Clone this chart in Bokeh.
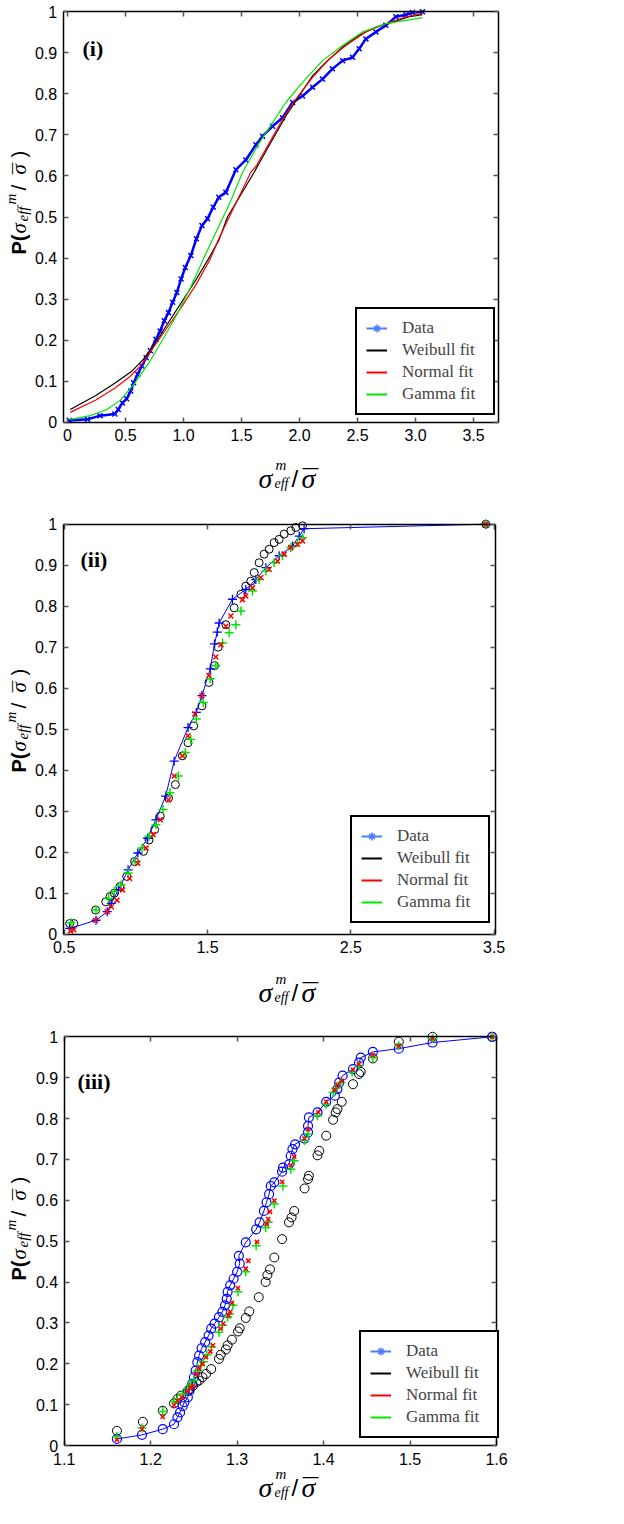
import math
from bokeh.plotting import figure
from bokeh.models import Range1d, FixedTicker, LinearAxis, Label, Legend, LegendItem
from bokeh.layouts import column
from bokeh.embed import file_html
from bokeh.resources import INLINE

# ---------------- values ----------------
y_ticks = [0, 0.1, 0.2, 0.3, 0.4, 0.5, 0.6, 0.7, 0.8, 0.9, 1]
y_tick_labels = ["0", "0.1", "0.2", "0.3", "0.4", "0.5", "0.6", "0.7", "0.8", "0.9", "1"]
legend_labels = ["Data", "Weibull fit", "Normal fit", "Gamma fit"]
panel_tags = ["(i)", "(ii)", "(iii)"]

# Panel (i)
p1_x_ticks = [0, 0.5, 1.0, 1.5, 2.0, 2.5, 3.0, 3.5]
p1_x_tick_labels = ["0", "0.5", "1.0", "1.5", "2.0", "2.5", "3.0", "3.5"]
p1_data_x = [0.015, 0.172, 0.280, 0.408, 0.437, 0.473, 0.509, 0.545, 0.569, 0.605, 0.641, 0.678,
             0.714, 0.762, 0.798, 0.834, 0.870, 0.906, 0.942, 0.979, 1.015, 1.063, 1.111, 1.159,
             1.207, 1.256, 1.304, 1.365, 1.451, 1.537, 1.624, 1.681, 1.767, 1.853, 1.940, 2.026,
             2.112, 2.198, 2.284, 2.371, 2.457, 2.514, 2.572, 2.658, 2.744, 2.830, 2.917, 2.974, 3.060]
p1_data_y = [0.004, 0.007, 0.016, 0.020, 0.031, 0.047, 0.057, 0.076, 0.096, 0.117, 0.137, 0.157,
             0.174, 0.202, 0.222, 0.247, 0.267, 0.292, 0.316, 0.349, 0.377, 0.406, 0.447, 0.479,
             0.496, 0.524, 0.548, 0.560, 0.615, 0.639, 0.676, 0.697, 0.721, 0.742, 0.779, 0.795,
             0.816, 0.836, 0.861, 0.881, 0.889, 0.910, 0.934, 0.951, 0.967, 0.988, 0.993, 0.998, 1.000]
p1_weib_x = [0.023, 0.244, 0.413, 0.557, 0.653, 0.750, 0.870, 0.991, 1.111, 1.231, 1.304, 1.379,
             1.609, 1.652, 1.767, 1.882, 1.997, 2.112, 2.227, 2.371, 2.514, 2.658, 2.802, 2.945, 3.060]
p1_weib_y = [0.031, 0.065, 0.096, 0.125, 0.153, 0.190, 0.243, 0.296, 0.349, 0.406, 0.443, 0.500,
             0.609, 0.631, 0.689, 0.746, 0.795, 0.844, 0.877, 0.914, 0.943, 0.963, 0.975, 0.988, 0.993]
p1_norm_x = [0.023, 0.244, 0.413, 0.533, 0.629, 0.750, 0.870, 0.991, 1.111, 1.231, 1.304, 1.394,
             1.580, 1.624, 1.739, 1.853, 1.968, 2.112, 2.256, 2.399, 2.572, 2.744, 2.917, 3.060]
p1_norm_y = [0.024, 0.054, 0.084, 0.110, 0.137, 0.186, 0.235, 0.284, 0.337, 0.398, 0.447, 0.500,
             0.609, 0.623, 0.680, 0.738, 0.787, 0.840, 0.885, 0.918, 0.951, 0.971, 0.988, 0.996]
p1_gamm_x = [0.023, 0.196, 0.340, 0.461, 0.581, 0.702, 0.822, 0.942, 1.063, 1.183, 1.300, 1.400,
             1.509, 1.537, 1.652, 1.767, 1.882, 2.026, 2.198, 2.371, 2.543, 2.744, 2.917, 3.060]
p1_gamm_y = [0.007, 0.016, 0.031, 0.055, 0.096, 0.145, 0.202, 0.262, 0.330, 0.405, 0.475, 0.535,
             0.609, 0.623, 0.680, 0.730, 0.779, 0.828, 0.881, 0.918, 0.951, 0.971, 0.979, 0.986]

# Panel (ii)
p2_x_ticks = [0.5, 1.5, 2.5, 3.5]
p2_x_tick_labels = ["0.5", "1.5", "2.5", "3.5"]
p2_data_x = [0.538, 0.722, 0.800, 0.829, 0.878, 0.946, 1.014, 1.082, 1.140, 1.208, 1.267, 1.364,
             1.422, 1.461, 1.519, 1.549, 1.568, 1.581, 1.674, 1.767, 1.837, 1.907, 2.000, 2.093,
             2.140, 2.174, 3.442]
p2_data_y = [0.014, 0.034, 0.055, 0.075, 0.108, 0.157, 0.198, 0.234, 0.279, 0.337, 0.422, 0.504,
             0.541, 0.582, 0.647, 0.708, 0.737, 0.759, 0.817, 0.841, 0.865, 0.894, 0.923, 0.947,
             0.971, 0.989, 1.000]
p2_weib_x = [0.538, 0.567, 0.719, 0.790, 0.820, 0.849, 0.888, 0.936, 0.991, 1.053, 1.092, 1.131,
             1.170, 1.228, 1.276, 1.325, 1.364, 1.403, 1.461, 1.510, 1.549, 1.574, 1.628, 1.686,
             1.733, 1.767, 1.802, 1.826, 1.860, 1.895, 1.930, 1.965, 2.000, 2.035, 2.081, 2.116,
             2.163, 3.442]
p2_weib_y = [0.026, 0.026, 0.059, 0.079, 0.092, 0.100, 0.116, 0.141, 0.177, 0.202, 0.230, 0.255,
             0.288, 0.332, 0.365, 0.435, 0.467, 0.508, 0.557, 0.614, 0.655, 0.700, 0.755, 0.796,
             0.829, 0.849, 0.861, 0.882, 0.906, 0.927, 0.939, 0.955, 0.963, 0.976, 0.984, 0.992,
             0.996, 1.000]
p2_norm_x = [0.544, 0.567, 0.719, 0.800, 0.829, 0.868, 0.907, 0.956, 1.014, 1.072, 1.121, 1.170,
             1.228, 1.267, 1.325, 1.364, 1.412, 1.461, 1.510, 1.558, 1.593, 1.628, 1.663, 1.744,
             1.767, 1.814, 1.872, 1.930, 1.988, 2.035, 2.081, 2.128, 2.163, 3.442]
p2_norm_y = [0.008, 0.011, 0.034, 0.055, 0.067, 0.083, 0.108, 0.136, 0.173, 0.210, 0.243, 0.279,
             0.328, 0.386, 0.435, 0.484, 0.537, 0.582, 0.631, 0.676, 0.706, 0.751, 0.776, 0.816,
             0.825, 0.845, 0.870, 0.890, 0.910, 0.927, 0.943, 0.951, 0.959, 1.000]
p2_gamm_x = [0.547, 0.722, 0.810, 0.849, 0.897, 0.946, 0.995, 1.043, 1.092, 1.140, 1.189, 1.238,
             1.296, 1.345, 1.383, 1.422, 1.471, 1.519, 1.558, 1.605, 1.651, 1.698, 1.733, 1.814,
             1.860, 1.907, 1.965, 2.023, 2.081, 2.128, 2.163, 3.442]
p2_gamm_y = [0.028, 0.059, 0.087, 0.104, 0.120, 0.149, 0.177, 0.210, 0.239, 0.267, 0.304, 0.345,
             0.386, 0.443, 0.475, 0.525, 0.565, 0.623, 0.655, 0.710, 0.735, 0.755, 0.788, 0.837,
             0.865, 0.886, 0.906, 0.923, 0.943, 0.955, 0.967, 1.000]

# Panel (iii)
p3_x_ticks = [1.1, 1.2, 1.3, 1.4, 1.5, 1.6]
p3_x_tick_labels = ["1.1", "1.2", "1.3", "1.4", "1.5", "1.6"]
p3_data_x = [1.161, 1.190, 1.214, 1.227, 1.231, 1.234, 1.237, 1.239, 1.243, 1.245, 1.248, 1.250,
             1.252, 1.254, 1.256, 1.259, 1.263, 1.267, 1.270, 1.274, 1.279, 1.283, 1.286, 1.288,
             1.289, 1.292, 1.296, 1.300, 1.303, 1.302, 1.310, 1.322, 1.326, 1.331, 1.334, 1.337,
             1.339, 1.343, 1.352, 1.353, 1.360, 1.362, 1.364, 1.367, 1.378, 1.382, 1.382, 1.383,
             1.393, 1.403, 1.413, 1.416, 1.418, 1.422, 1.434, 1.441, 1.443, 1.457, 1.487, 1.526, 1.595]
p3_data_y = [0.016, 0.026, 0.040, 0.052, 0.069, 0.081, 0.096, 0.106, 0.118, 0.134, 0.151, 0.167,
             0.183, 0.204, 0.220, 0.238, 0.253, 0.269, 0.286, 0.298, 0.314, 0.327, 0.343, 0.359,
             0.376, 0.392, 0.408, 0.425, 0.445, 0.464, 0.497, 0.529, 0.546, 0.574, 0.595, 0.615,
             0.635, 0.644, 0.670, 0.680, 0.688, 0.709, 0.725, 0.737, 0.751, 0.766, 0.782, 0.803,
             0.815, 0.841, 0.856, 0.872, 0.888, 0.905, 0.921, 0.937, 0.949, 0.963, 0.971, 0.986, 1.000]
p3_weib_x = [1.161, 1.191, 1.214, 1.227, 1.231, 1.235, 1.243, 1.245, 1.249, 1.253, 1.256, 1.260,
             1.264, 1.270, 1.279, 1.281, 1.287, 1.289, 1.294, 1.301, 1.303, 1.310, 1.314, 1.325,
             1.333, 1.335, 1.338, 1.343, 1.352, 1.360, 1.363, 1.366, 1.378, 1.382, 1.383, 1.393,
             1.395, 1.403, 1.411, 1.414, 1.416, 1.421, 1.434, 1.441, 1.443, 1.457, 1.487, 1.526, 1.595]
p3_weib_y = [0.036, 0.058, 0.085, 0.103, 0.114, 0.122, 0.133, 0.138, 0.146, 0.155, 0.159, 0.167,
             0.175, 0.187, 0.212, 0.222, 0.235, 0.245, 0.259, 0.279, 0.287, 0.312, 0.328, 0.363,
             0.400, 0.417, 0.431, 0.460, 0.505, 0.546, 0.558, 0.574, 0.629, 0.652, 0.660, 0.710,
             0.721, 0.758, 0.797, 0.815, 0.823, 0.841, 0.884, 0.909, 0.914, 0.947, 0.988, 1.000, 1.000]
p3_norm_x = [1.161, 1.190, 1.214, 1.227, 1.231, 1.236, 1.243, 1.246, 1.249, 1.253, 1.256, 1.260,
             1.264, 1.269, 1.272, 1.281, 1.284, 1.290, 1.292, 1.294, 1.301, 1.310, 1.313, 1.323,
             1.334, 1.336, 1.338, 1.343, 1.352, 1.362, 1.366, 1.378, 1.382, 1.394, 1.403, 1.413,
             1.416, 1.421, 1.434, 1.441, 1.457, 1.487, 1.526, 1.595]
p3_norm_y = [0.014, 0.040, 0.070, 0.099, 0.110, 0.118, 0.134, 0.142, 0.146, 0.175, 0.189, 0.200,
             0.216, 0.230, 0.245, 0.286, 0.298, 0.318, 0.327, 0.349, 0.385, 0.433, 0.452, 0.498,
             0.542, 0.554, 0.572, 0.599, 0.645, 0.686, 0.707, 0.751, 0.774, 0.815, 0.841, 0.870,
             0.882, 0.892, 0.919, 0.933, 0.955, 0.978, 0.996, 1.000]
p3_gamm_x = [1.161, 1.190, 1.214, 1.227, 1.231, 1.237, 1.243, 1.246, 1.250, 1.254, 1.258, 1.261,
             1.265, 1.270, 1.279, 1.283, 1.289, 1.291, 1.295, 1.301, 1.310, 1.322, 1.333, 1.336,
             1.343, 1.353, 1.362, 1.366, 1.378, 1.382, 1.393, 1.403, 1.411, 1.414, 1.420, 1.433,
             1.441, 1.457, 1.487, 1.526, 1.595]
p3_gamm_y = [0.022, 0.043, 0.083, 0.107, 0.114, 0.126, 0.140, 0.148, 0.159, 0.183, 0.196, 0.205,
             0.222, 0.241, 0.277, 0.294, 0.314, 0.322, 0.343, 0.376, 0.425, 0.489, 0.533, 0.546,
             0.591, 0.635, 0.676, 0.697, 0.746, 0.762, 0.807, 0.835, 0.864, 0.874, 0.888, 0.914,
             0.929, 0.949, 0.978, 0.996, 1.000]

# ---------------- styling / layout ----------------
FIG_W = 600
MARGIN = 8
BLUE = "#0000FF"
LEG_BLUE = "#4D7CFE"
RED = "#FF0000"
GREEN = "#00E600"
SERIF = "Liberation Serif"
SANS = "Liberation Sans"


def style_axis(ax, show_labels):
    ax.axis_line_color = "black"
    ax.axis_line_width = 1.5
    ax.major_tick_in = 5
    ax.major_tick_out = 0
    ax.major_tick_line_color = "#555555"
    ax.major_tick_line_width = 1.5
    ax.minor_tick_line_color = None
    ax.major_label_text_font = SANS
    ax.major_label_text_color = "black"
    ax.major_label_text_font_size = "16px"
    if not show_labels:
        ax.major_label_text_alpha = 0


def make_fig(box, x_lim, page_top, height, x_ticks, x_labels):
    """box: plot-box edges in page pixels (left, top, right, bottom);
    the frame covers the whole canvas so that titles can sit outside the box."""
    bl, bt, br, bb = box
    x0, x1 = x_lim
    sx = (x1 - x0) / (br - bl)
    sy = 1.0 / (bb - bt)
    xr = (x0 + (MARGIN - bl) * sx, x0 + (MARGIN + FIG_W - bl) * sx)
    yr = ((bb - (page_top + height)) * sy, (bb - page_top) * sy)
    p = figure(width=FIG_W, height=height, x_range=Range1d(*xr), y_range=Range1d(*yr),
               x_axis_location=None, y_axis_location=None, min_border=0,
               output_backend="svg", toolbar_location=None)
    p.grid.visible = False
    p.outline_line_color = None
    p.background_fill_color = "white"
    p.border_fill_color = "white"
    p.extra_x_ranges = {"legend_only": Range1d(100, 101)}

    xo = {t: l for t, l in zip(x_ticks, x_labels)}
    yo = {t: l for t, l in zip(y_ticks, y_tick_labels)}
    bottom = LinearAxis(ticker=FixedTicker(ticks=x_ticks), fixed_location=0, bounds=(x0, x1),
                        major_label_overrides=xo, major_label_standoff=7)
    left = LinearAxis(ticker=FixedTicker(ticks=y_ticks), fixed_location=x0, bounds=(0, 1),
                      major_label_overrides=yo, major_label_standoff=6)
    top = LinearAxis(ticker=FixedTicker(ticks=x_ticks), fixed_location=1, bounds=(x0, x1))
    right = LinearAxis(ticker=FixedTicker(ticks=y_ticks), fixed_location=x1, bounds=(0, 1))
    style_axis(bottom, True)
    style_axis(left, True)
    style_axis(top, False)
    style_axis(right, False)
    p.add_layout(bottom, "below")
    p.add_layout(left, "left")
    p.add_layout(top, "above")
    p.add_layout(right, "right")

    def to_data(px, py):
        return (x0 + (px - bl) * sx, (bb - py) * sy)
    return p, to_data


def add_text(p, to_data, px, py, text, font, size, style="normal", angle=0.0,
             align="left", baseline="alphabetic"):
    x, y = to_data(px, py)
    p.add_layout(Label(x=x, y=y, text=text, text_font=font, text_font_size=f"{size}px",
                       text_font_style=style, angle=angle, text_align=align,
                       text_baseline=baseline, text_color="black"))


def add_axis_titles(p, to_data, xl_base, yl_bottom):
    # x title:  sigma^m_eff / sigma-bar
    add_text(p, to_data, 266, xl_base, "σ", SERIF, 28, "italic")
    add_text(p, to_data, 283, xl_base - 14, "m", SERIF, 15, "italic")
    add_text(p, to_data, 282, xl_base + 5, "eff", SERIF, 14, "italic")
    add_text(p, to_data, 299, xl_base, "/", SANS, 24)
    add_text(p, to_data, 309, xl_base, "σ", SERIF, 28, "italic")
    add_text(p, to_data, 318, xl_base + 1, "¯", SANS, 28, "normal", 0.0, "center")
    # y title (rotated):  P(sigma_eff^m / sigma-bar )
    a = math.pi / 2
    bx = 26
    add_text(p, to_data, bx, yl_bottom, "P(", SANS, 20, "bold", a)
    add_text(p, to_data, bx, yl_bottom - 21, "σ", SERIF, 21, "italic", a)
    add_text(p, to_data, bx + 4, yl_bottom - 33, "eff", SERIF, 15, "italic", a)
    add_text(p, to_data, bx - 8, yl_bottom - 50, "m", SERIF, 15, "italic", a)
    add_text(p, to_data, bx, yl_bottom - 64, "/", SANS, 21, "normal", a)
    add_text(p, to_data, bx, yl_bottom - 80, "σ", SERIF, 21, "italic", a)
    add_text(p, to_data, bx + 1, yl_bottom - 86, "¯", SANS, 21, "normal", a, "center")
    add_text(p, to_data, bx, yl_bottom - 97, ")", SANS, 20, "normal", a)


def add_legend(p, loc, dx, dy, wx, wy, nx, ny, gx, gy):
    # legend swatches: drawn from the series on a range that lies off the canvas
    r0l = p.line(dx, dy, line_color=LEG_BLUE, line_width=2, x_range_name="legend_only")
    r0m = p.scatter(dx, dy, marker="asterisk", size=9, line_color=LEG_BLUE, line_width=1.5,
                    x_range_name="legend_only")
    r1 = p.line(wx, wy, line_color="black", line_width=2, x_range_name="legend_only")
    r2 = p.line(nx, ny, line_color=RED, line_width=2, x_range_name="legend_only")
    r3 = p.line(gx, gy, line_color=GREEN, line_width=2, x_range_name="legend_only")
    items = [LegendItem(label=legend_labels[0], renderers=[r0l, r0m]),
             LegendItem(label=legend_labels[1], renderers=[r1]),
             LegendItem(label=legend_labels[2], renderers=[r2]),
             LegendItem(label=legend_labels[3], renderers=[r3])]
    leg = Legend(items=items, location=loc, padding=9, spacing=2,
                 glyph_width=21, glyph_height=20, label_height=20, label_width=82,
                 label_standoff=15, label_text_font=SERIF, label_text_font_size="17px",
                 border_line_color="black", border_line_width=2, border_line_alpha=1.0,
                 background_fill_color="white", background_fill_alpha=1.0)
    p.add_layout(leg)


# ---------------- panel (i) ----------------
top1 = MARGIN
p1, d1 = make_fig((70.7, 19.3, 505.7, 429.7), (-0.0374, 3.7126), top1, 500,
                  p1_x_ticks, p1_x_tick_labels)
p1.line(p1_data_x, p1_data_y, line_color=BLUE, line_width=2.5)
p1.scatter(p1_data_x, p1_data_y, marker="x", size=7, line_color=BLUE, line_width=1.5)
p1.line(p1_weib_x, p1_weib_y, line_color="black", line_width=1.2)
p1.line(p1_norm_x, p1_norm_y, line_color=RED, line_width=1.2)
p1.line(p1_gamm_x, p1_gamm_y, line_color=GREEN, line_width=1.2)
add_legend(p1, (355, 85), p1_data_x, p1_data_y, p1_weib_x, p1_weib_y,
           p1_norm_x, p1_norm_y, p1_gamm_x, p1_gamm_y)
add_text(p1, d1, 90, 56, panel_tags[0], SERIF, 22, "bold")
add_axis_titles(p1, d1, 486, 262)

# ---------------- panel (ii) ----------------
top2 = MARGIN + 500
p2, d2 = make_fig((70.7, 531.7, 503.3, 941.7), (0.493, 3.5116), top2, 508,
                  p2_x_ticks, p2_x_tick_labels)
p2.scatter(p2_weib_x, p2_weib_y, marker="circle", size=8, fill_color=None,
           line_color="black", line_width=1)
p2.line(p2_data_x, p2_data_y, line_color=BLUE, line_width=1)
p2.scatter(p2_data_x, p2_data_y, marker="cross", size=9, line_color=BLUE, line_width=1.3)
p2.scatter(p2_gamm_x, p2_gamm_y, marker="cross", size=9, line_color=GREEN, line_width=1.5)
p2.scatter(p2_norm_x, p2_norm_y, marker="x", size=7, line_color=RED, line_width=1.5)
add_legend(p2, (350, 85), p2_data_x, p2_data_y, p2_weib_x, p2_weib_y,
           p2_norm_x, p2_norm_y, p2_gamm_x, p2_gamm_y)
add_text(p2, d2, 88, 567, panel_tags[1], SERIF, 22, "bold")
add_axis_titles(p2, d2, 1000, 780)

# ---------------- panel (iii) ----------------
top3 = MARGIN + 500 + 508
p3, d3 = make_fig((71.7, 1044.3, 504.0, 1453.0), (1.1, 1.6), top3, 500,
                  p3_x_ticks, p3_x_tick_labels)
p3.scatter(p3_weib_x, p3_weib_y, marker="circle", size=9, fill_color=None,
           line_color="black", line_width=1)
p3.line(p3_data_x, p3_data_y, line_color=BLUE, line_width=1)
p3.scatter(p3_data_x, p3_data_y, marker="circle", size=9, fill_color=None,
           line_color=BLUE, line_width=1.2)
p3.scatter(p3_gamm_x, p3_gamm_y, marker="cross", size=9, line_color=GREEN, line_width=1.5)
p3.scatter(p3_norm_x, p3_norm_y, marker="x", size=6, line_color=RED, line_width=1.5)
add_legend(p3, (359, 70), p3_data_x, p3_data_y, p3_weib_x, p3_weib_y,
           p3_norm_x, p3_norm_y, p3_gamm_x, p3_gamm_y)
add_text(p3, d3, 85, 1089, panel_tags[2], SERIF, 22, "bold")
add_axis_titles(p3, d3, 1495, 1288)

layout = column(p1, p2, p3)
open("out.html", "w").write(file_html(layout, INLINE))
